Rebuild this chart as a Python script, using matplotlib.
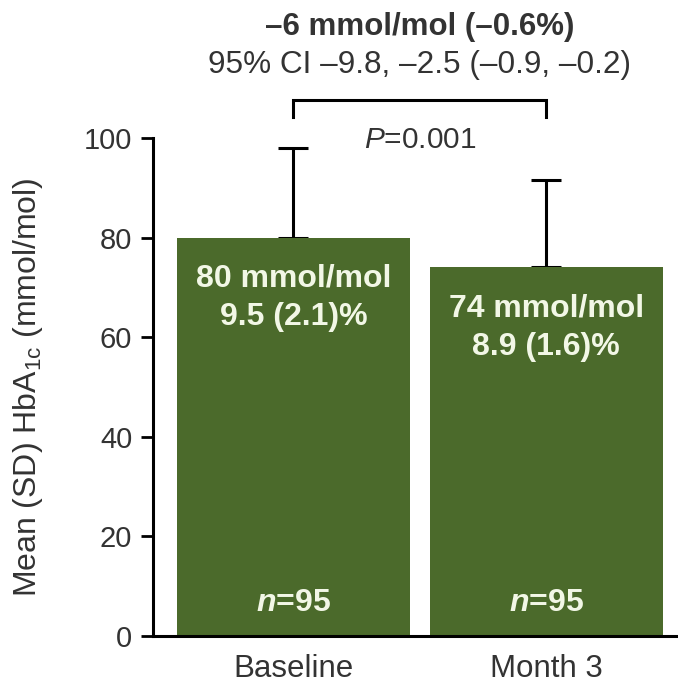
import matplotlib
matplotlib.use("Agg")
import matplotlib.pyplot as plt

plt.rcParams['font.family'] = ['Liberation Sans', 'DejaVu Sans']
plt.rcParams['mathtext.fontset'] = 'custom'
plt.rcParams['mathtext.rm'] = 'Liberation Sans'
plt.rcParams['mathtext.it'] = 'Liberation Sans:italic'
plt.rcParams['mathtext.bf'] = 'Liberation Sans:bold'
plt.rcParams['mathtext.bfit'] = 'Liberation Sans:italic:bold'

categories = ["Baseline", "Month 3"]
means = [80, 74]
sds = [18, 17.5]
mmol_labels = ["80 mmol/mol", "74 mmol/mol"]
pct_labels = ["9.5 (2.1)%", "8.9 (1.6)%"]
n_values = [95, 95]
diff_title = "\u20136 mmol/mol (\u20130.6%)"
ci_text = "95% CI \u20139.8, \u20132.5 (\u20130.9, \u20130.2)"
p_text = "$\\mathit{P}$=0.001"
yticks = [0, 20, 40, 60, 80, 100]

bar_color = "#4b6a2b"
text_color = "#f2f7e6"
grey = "#333333"

fig = plt.figure(figsize=(6.78, 6.98), dpi=100)
ax = fig.add_axes([0.2257, 0.0888, 0.771, 0.7135])

x = list(range(len(categories)))
ax.bar(x, means, width=0.92, color=bar_color, zorder=2)
ax.errorbar(x, means, yerr=[[0, 0], sds], fmt='none', ecolor='black',
            elinewidth=2.2, capsize=11, capthick=2.2, zorder=1)

ax.set_xlim(-0.555, 1.512)
ax.set_ylim(0, 100)
ax.set_yticks(yticks)
ax.set_xticks(x)
ax.set_xticklabels(categories, fontsize=22.5, color=grey)
ax.tick_params(axis='x', length=0, pad=13)
ax.tick_params(axis='y', length=9, width=2, labelsize=21, labelcolor=grey, pad=6)
for s in ['top', 'right']:
    ax.spines[s].set_visible(False)
ax.spines['left'].set_linewidth(2.2)
ax.spines['bottom'].set_linewidth(2.2)
ax.set_ylabel("Mean (SD) HbA$_{\\mathregular{1c}}$ (mmol/mol)", fontsize=23,
              color=grey, labelpad=28)

for xi, m, l1, l2, nv in zip(x, means, mmol_labels, pct_labels, n_values):
    ax.text(xi, m - 8.3, l1, ha='center', va='center', fontsize=23,
            fontweight='bold', color=text_color, zorder=3)
    ax.text(xi, m - 16.0, l2, ha='center', va='center', fontsize=23,
            fontweight='bold', color=text_color, zorder=3)
    ax.text(xi, 6.6, "$\\mathbfit{n}$=%d" % nv, ha='center', fontweight='bold',
            va='center', fontsize=23, color=text_color, zorder=3)

# bracket
ax.plot([x[0], x[0], x[1], x[1]], [104.2, 107.6, 107.6, 104.2], color='black',
        lw=2.2, clip_on=False, solid_joinstyle='miter')
ax.text(0.5, 99.6, p_text, ha='center', va='center', fontsize=21.5,
        color=grey, clip_on=False)
ax.text(0.5, 114.7, ci_text, ha='center', va='center', fontsize=22.7,
        color=grey, clip_on=False)
ax.text(0.5, 122.3, diff_title, ha='center', va='center', fontsize=22.5,
        fontweight='bold', color=grey, clip_on=False)

fig.savefig("out.png", dpi=100)
